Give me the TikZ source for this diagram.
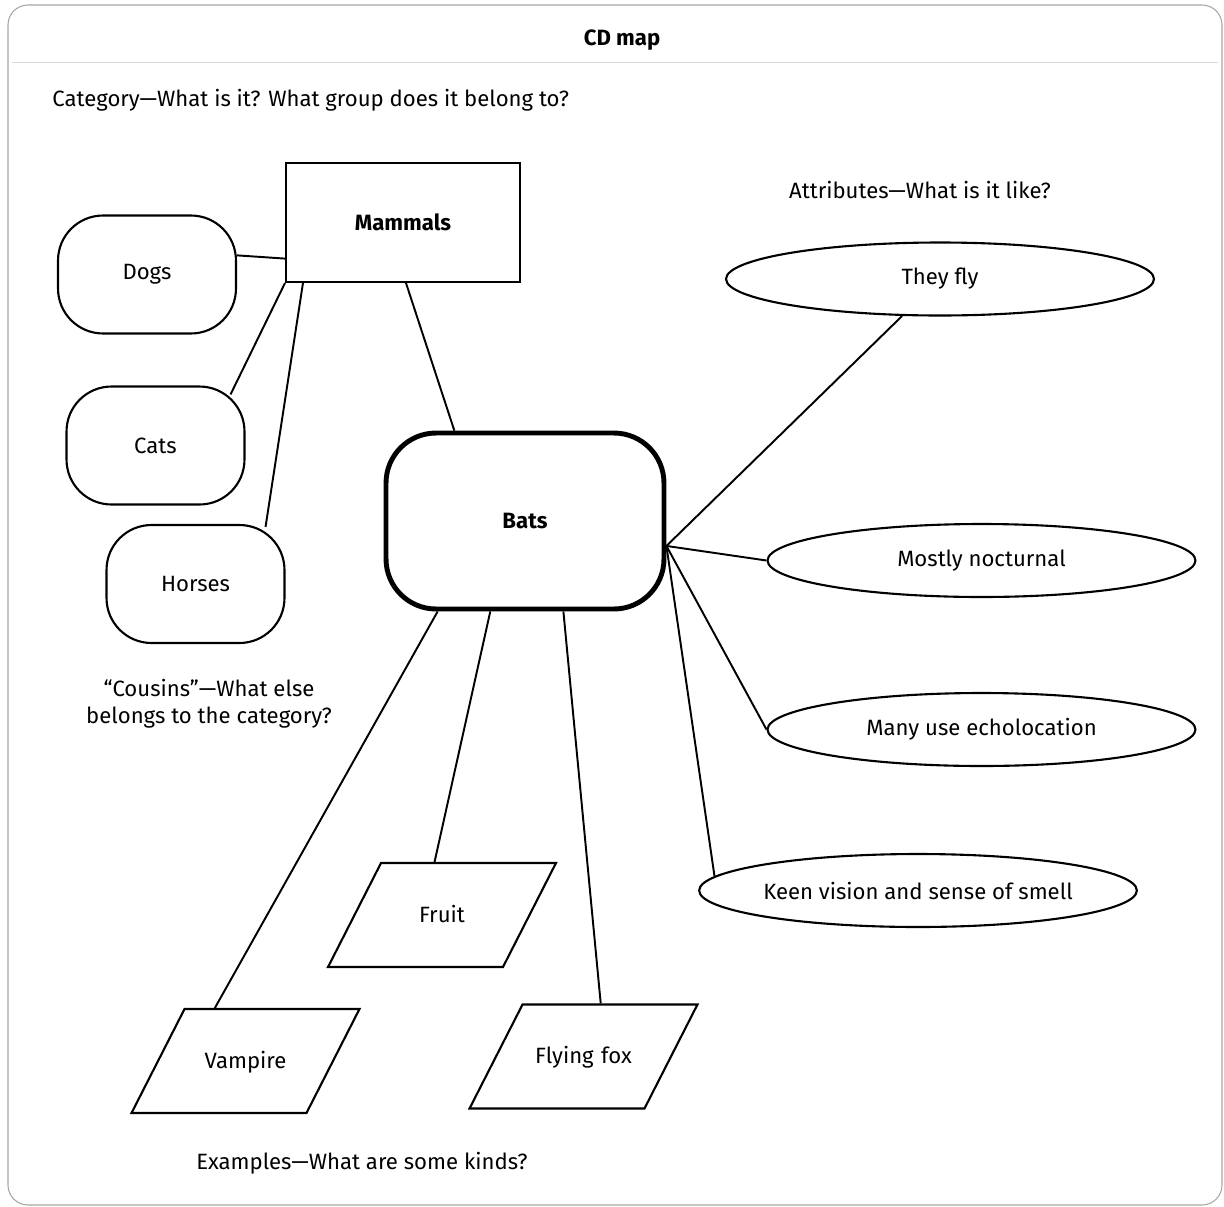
\documentclass[tikz,border=0pt,12pt]{standalone}
\usepackage{fontspec}
\setmainfont{Fira Sans}
\usetikzlibrary{positioning,shapes.geometric}
\newcommand\mapfont{\fontsize{12.6}{15.5}\selectfont}

\begin{document}
\begin{tikzpicture}[
  x=0.02cm, y=-0.02cm, font=\mapfont,
  catbox/.style={draw, line width=1.2pt, minimum width=4.68cm, minimum height=2.38cm, font=\mapfont\bfseries},
  kin/.style={draw, line width=1.2pt, rounded corners=0.9cm, minimum width=3.56cm, minimum height=2.36cm},
  hub/.style={draw, line width=2.8pt, rounded corners=1cm, minimum width=5.56cm, minimum height=3.52cm, font=\mapfont\bfseries},
  attr/.style={draw, ellipse, line width=1.2pt, inner sep=0pt, minimum width=8.56cm, minimum height=1.46cm},
  kind/.style={draw, trapezium, trapezium left angle=63, trapezium right angle=117, line width=1.2pt, inner sep=0pt, text width=2.44cm, align=center, text height=1.18cm, text depth=0.9cm},
  link/.style={line width=1.1pt}
]
\useasboundingbox (0,0) rectangle (1224,1207);
\draw[gray!70, line width=0.6pt, rounded corners=0.4cm] (8,5) rectangle (1222,1205);
\draw[gray!30, line width=0.4pt] (12,62) -- (1218,62);

\node[font=\mapfont\bfseries] (title) at (622,40) {CD map};
\node[anchor=west] (qcat) at (45,100) {Category—What is it? What group does it belong to?};
\node (qattr) at (920,190) {Attributes—What is it like?};
\node[align=center] (qcous) at (209,704) {“Cousins”—What else\\belongs to the category?};
\node (qex) at (362,1163) {Examples—What are some kinds?};

\node[catbox] (mammals) at (403,222.5) {Mammals};
\node[kin] (dogs) at (147,274.5) {Dogs};
\node[kin] (cats) at (155.5,445.5) {Cats};
\node[kin] (horses) at (195.5,584) {Horses};
\node[hub] (bats) at (525,521) {Bats};
\node[attr] (fly) at (940,279) {They fly};
\node[attr] (nocturnal) at (981.5,560.5) {Mostly nocturnal};
\node[attr] (echo) at (981.5,729.5) {Many use echolocation};
\node[attr] (vision) at (918,890.5) {Keen vision and sense of smell};
\node[kind] (fruit) at (442,915) {Fruit};
\node[kind] (vampire) at (245.5,1061) {Vampire};
\node[kind] (fox) at (583.5,1056.5) {Flying fox};

\draw[link] (dogs.12) -- (mammals.-163);
\draw[link] (mammals.south west) -- ([shift={(-15,9)}]cats.north east);
\draw[link] ([shift={(18,0)}]mammals.south west) -- ([shift={(-20,3)}]horses.north east);
\draw[link] ([shift={(3,0)}]mammals.south) -- (bats.128);
\draw[link] (bats.-10.5) -- (fly);
\draw[link] (bats.-10.5) -- (nocturnal.west);
\draw[link] (bats.-10.5) -- (echo.west);
\draw[link] (bats.-10.5) -- (vision.176);
\draw[link] (bats.-134) -- (vampire.120);
\draw[link] (bats.-111.6) -- (fruit.98);
\draw[link] (bats.-67.3) -- (fox.72);
\end{tikzpicture}
\end{document}
